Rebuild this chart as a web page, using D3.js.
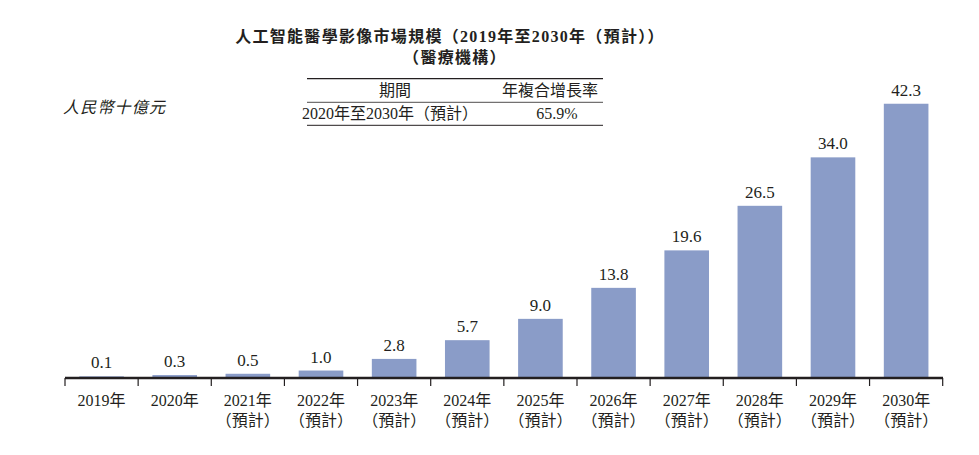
<!DOCTYPE html>
<html>
<head>
<meta charset="utf-8">
<script src="https://cdn.jsdelivr.net/npm/d3@7"></script>
<style>
  body { margin: 0; background: #fff; }
  text { font-family: "Liberation Serif", "Noto Sans CJK TC", serif; fill: #231f20; }
</style>
</head>
<body>
<svg></svg>
<script>
var years = ["2019年", "2020年", "2021年", "2022年", "2023年", "2024年", "2025年", "2026年", "2027年", "2028年", "2029年", "2030年"];
var values = [0.1, 0.3, 0.5, 1.0, 2.8, 5.7, 9.0, 13.8, 19.6, 26.5, 34.0, 42.3];
var forecast = [false, false, true, true, true, true, true, true, true, true, true, true];
var tableHeader = ["期間", "年複合增長率"];
var tableRow = ["2020年至2030年（預計）", "65.9%"];

var svgWidth = 979;
var svgHeight = 455;

var svg = d3.select("svg")
    .attr("width", svgWidth)
    .attr("height", svgHeight);

var xScale = d3.scaleBand()
    .domain(years)
    .range([65, 942.7])
    .paddingInner(0.39)
    .paddingOuter(0.195);

var yScale = d3.scaleLinear()
    .domain([0, 45])
    .range([377, 377 - 45 * 6.46]);

// title
svg.append("text")
    .attr("x", 450).attr("y", 42)
    .attr("text-anchor", "middle")
    .attr("font-size", 16).attr("font-weight", "bold")
    .attr("letter-spacing", 1.3)
    .text("人工智能醫學影像市場規模（2019年至2030年（預計））");
svg.append("text")
    .attr("x", 455).attr("y", 63)
    .attr("text-anchor", "middle")
    .attr("font-size", 16).attr("font-weight", "bold")
    .attr("letter-spacing", 1.3)
    .text("（醫療機構）");

// unit
svg.append("text")
    .attr("x", 63).attr("y", 113)
    .attr("font-size", 16).attr("font-style", "italic")
    .attr("letter-spacing", 1.2)
    .text("人民幣十億元");

// CAGR table
var table = svg.append("g");
table.append("line").attr("x1", 307).attr("x2", 603).attr("y1", 78.7).attr("y2", 78.7)
    .attr("stroke", "#231f20").attr("stroke-width", 1.3);
table.append("line").attr("x1", 307).attr("x2", 603).attr("y1", 102.3).attr("y2", 102.3)
    .attr("stroke", "#231f20").attr("stroke-width", 0.8);
table.append("line").attr("x1", 307).attr("x2", 603).attr("y1", 125.3).attr("y2", 125.3)
    .attr("stroke", "#231f20").attr("stroke-width", 1);
var colX = [395, 550];
table.selectAll("text.head")
    .data(tableHeader)
    .enter().append("text")
    .attr("class", "head")
    .attr("x", function(d, i) { return colX[i]; })
    .attr("y", 96)
    .attr("text-anchor", "middle")
    .attr("font-size", 16)
    .text(function(d) { return d; });
table.selectAll("text.row")
    .data(tableRow)
    .enter().append("text")
    .attr("class", "row")
    .attr("x", function(d, i) { return i == 0 ? 390 : 557; })
    .attr("y", 119)
    .attr("text-anchor", "middle")
    .attr("font-size", 16)
    .text(function(d) { return d; });

// bars
svg.selectAll("rect")
    .data(values)
    .enter()
    .append("rect")
    .attr("x", function(d, i) { return xScale(years[i]); })
    .attr("y", function(d) { return yScale(d); })
    .attr("width", xScale.bandwidth())
    .attr("height", function(d) { return yScale(0) - yScale(d); })
    .attr("fill", "#8a9cc8");

// value labels
svg.selectAll("text.val")
    .data(values)
    .enter()
    .append("text")
    .attr("class", "val")
    .attr("x", function(d, i) { return xScale(years[i]) + xScale.bandwidth() / 2; })
    .attr("y", function(d) { return yScale(d) - 8; })
    .attr("text-anchor", "middle")
    .attr("font-size", 17)
    .text(function(d) { return d.toFixed(1); });

// x axis
var xAxis = d3.axisBottom(xScale).tickSize(0).tickPadding(0);
var axisG = svg.append("g")
    .attr("transform", "translate(0, 378)")
    .call(xAxis);
axisG.select(".domain").remove();
axisG.selectAll(".tick text").remove();
axisG.append("line")
    .attr("x1", 65).attr("x2", 943)
    .attr("stroke", "#231f20").attr("stroke-width", 2.6);

var step = xScale.step();
var bounds = years.map(function(d) { return xScale(d) - step * xScale.paddingInner() / 2; });
bounds.push(942.7);
axisG.selectAll("line.tk")
    .data(bounds)
    .enter().append("line")
    .attr("class", "tk")
    .attr("x1", function(d) { return d; }).attr("x2", function(d) { return d; })
    .attr("y1", 0).attr("y2", 8)
    .attr("stroke", "#231f20").attr("stroke-width", 1.2);

axisG.selectAll(".tick").each(function(d, i) {
    var t = d3.select(this);
    t.append("text")
        .attr("y", 28)
        .attr("text-anchor", "middle")
        .attr("font-size", 16)
        .text(d);
    if (forecast[i]) {
        t.append("text")
            .attr("y", 48)
            .attr("text-anchor", "middle")
            .attr("font-size", 16)
            .text("（預計）");
    }
});
</script>
</body>
</html>
